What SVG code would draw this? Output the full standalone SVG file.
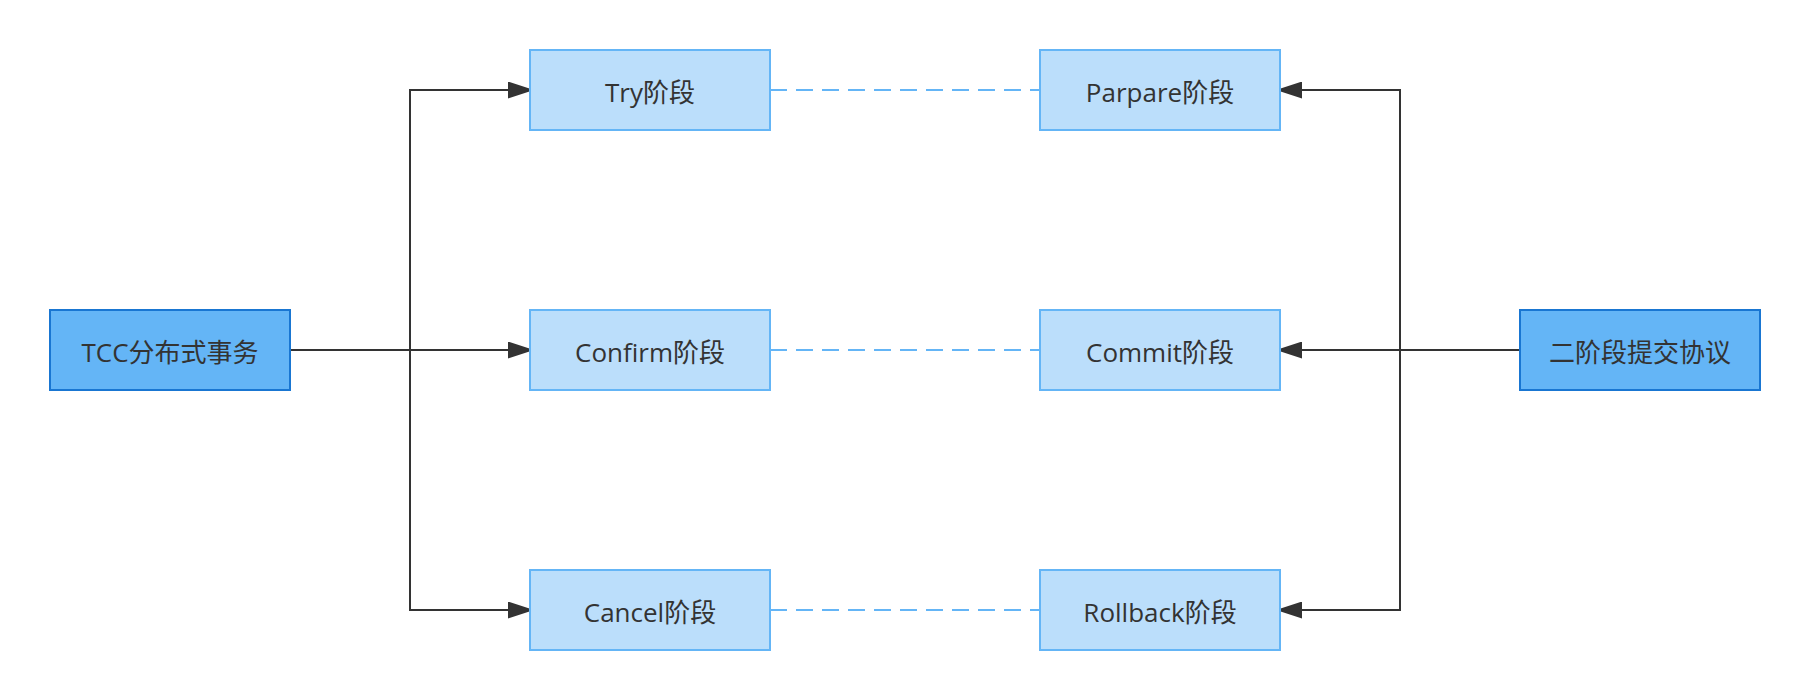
<svg xmlns="http://www.w3.org/2000/svg" width="1810" height="700" viewBox="0 0 1810 700">
<style>
.dark{fill:#64B5F6;stroke:#1976D2;stroke-width:2}
.light{fill:#BBDEFB;stroke:#64B5F6;stroke-width:2}
.t{font-family:"Open Sans","Noto Sans CJK SC",sans-serif;font-size:26px;fill:#333333;text-anchor:middle}
.c{fill:none;stroke:#333333;stroke-width:2}
.d{fill:none;stroke:#64B5F6;stroke-width:2;stroke-dasharray:17 9}
</style>
<defs>
<marker id="arr" viewBox="0 0 26 17" refX="26" refY="8.5" markerWidth="26" markerHeight="17" markerUnits="userSpaceOnUse" orient="auto">
<path d="M0,0 L26,8.5 L0,17 Z" fill="#333333"/>
</marker>
</defs>
<rect width="1810" height="700" fill="#ffffff"/>
<g id="connectors">
<path class="c" d="M290,350 H534" marker-end="url(#arr)"/>
<path class="c" d="M410,350 V90 H534" marker-end="url(#arr)"/>
<path class="c" d="M410,350 V610 H534" marker-end="url(#arr)"/>
<path class="c" d="M1520,350 H1276" marker-end="url(#arr)"/>
<path class="c" d="M1400,350 V90 H1276" marker-end="url(#arr)"/>
<path class="c" d="M1400,350 V610 H1276" marker-end="url(#arr)"/>
<path class="d" d="M770,90 H1040"/>
<path class="d" d="M770,350 H1040"/>
<path class="d" d="M770,610 H1040"/>
</g>
<g id="tcc"><rect class="dark" x="50" y="310" width="240" height="80"/><text class="t" x="170" y="362">TCC分布式事务</text></g>
<g id="try"><rect class="light" x="530" y="50" width="240" height="80"/><text class="t" x="650" y="102">Try阶段</text></g>
<g id="confirm"><rect class="light" x="530" y="310" width="240" height="80"/><text class="t" x="650" y="362">Confirm阶段</text></g>
<g id="cancel"><rect class="light" x="530" y="570" width="240" height="80"/><text class="t" x="650" y="622">Cancel阶段</text></g>
<g id="parpare"><rect class="light" x="1040" y="50" width="240" height="80"/><text class="t" x="1160" y="102">Parpare阶段</text></g>
<g id="commit"><rect class="light" x="1040" y="310" width="240" height="80"/><text class="t" x="1160" y="362">Commit阶段</text></g>
<g id="rollback"><rect class="light" x="1040" y="570" width="240" height="80"/><text class="t" x="1160" y="622">Rollback阶段</text></g>
<g id="twopc"><rect class="dark" x="1520" y="310" width="240" height="80"/><text class="t" x="1640" y="362">二阶段提交协议</text></g>
</svg>
